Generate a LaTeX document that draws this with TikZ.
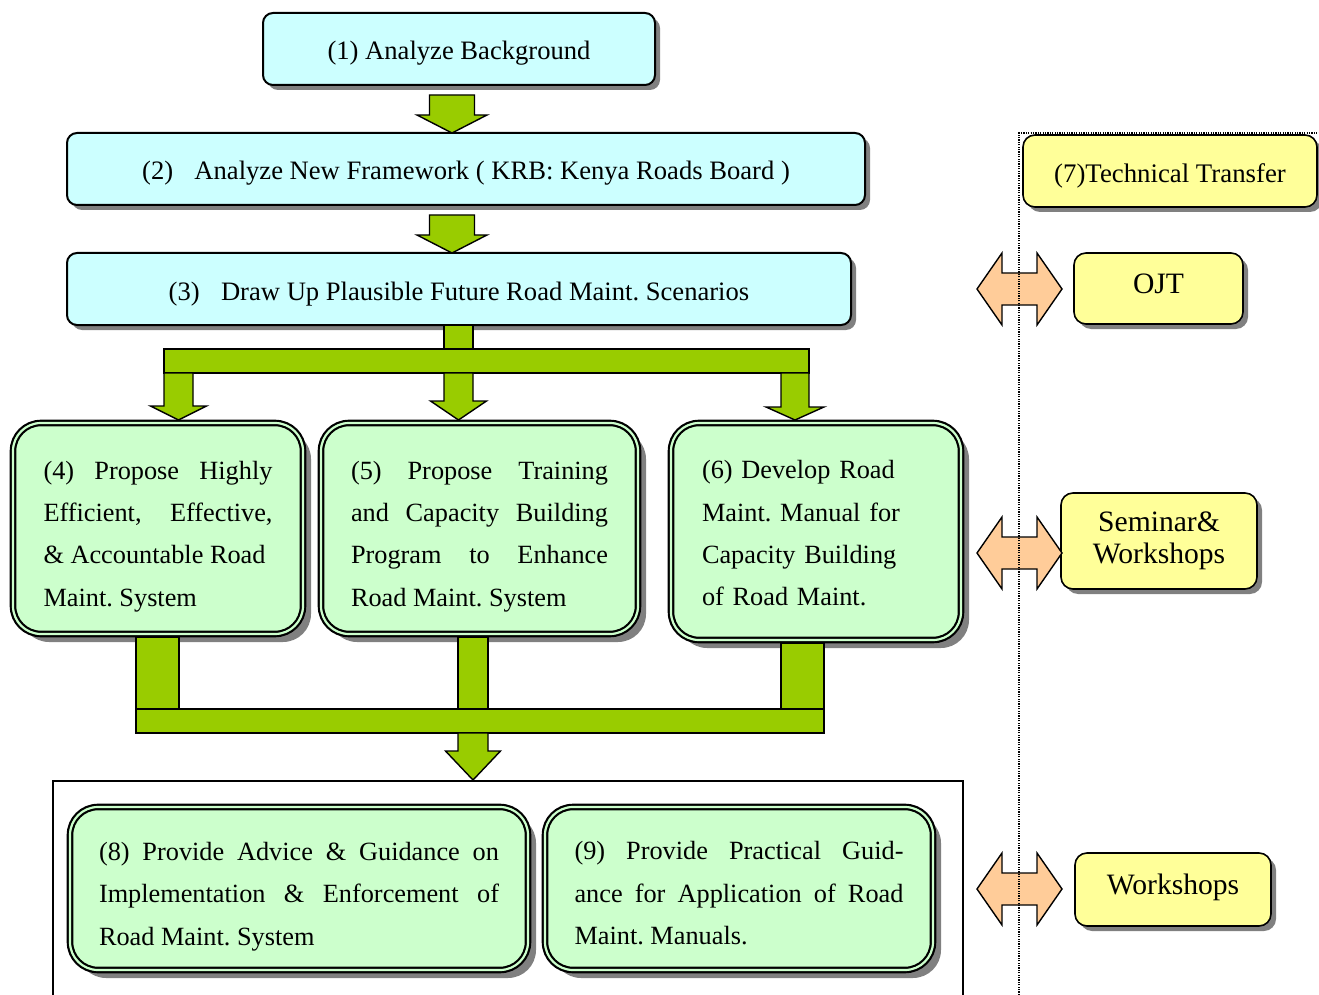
\documentclass[tikz,border=0pt]{standalone}
\usepackage{fontspec}
\setmainfont{Liberation Serif}
\usepackage{tikz}
\usetikzlibrary{calc}
\usetikzlibrary{shadows}
\frenchspacing

\definecolor{stepcyan}{HTML}{CCFFFF}
\definecolor{taskgreen}{HTML}{CCFFCC}
\definecolor{flowgreen}{HTML}{99CC00}
\definecolor{ttyellow}{HTML}{FFFF99}
\definecolor{ttpeach}{HTML}{FFCC99}

\newcommand{\taskfont}{\fontsize{13.15}{21.2}\selectfont\hyphenpenalty=10000 }
\newcommand{\gdown}[6]{%
  \draw[garrow] (#1-#5,#2) -- (#1+#5,#2) -- (#1+#5,#3) -- (#1+#6,#3) -- (#1,#4)
    -- (#1-#6,#3) -- (#1-#5,#3) -- cycle;}

\tikzset{
  stepbox/.style={draw, line width=1pt, rounded corners=5pt, fill=stepcyan,
    minimum height=36pt, inner sep=0pt, text height=14pt, text depth=3pt,
    drop shadow={shadow xshift=2.5pt, shadow yshift=-2.5pt, fill=black!50, opacity=1},
    font=\fontsize{13.3}{16}\selectfont},
  taskbox/.style={draw, line width=1.1pt, double=taskgreen, double distance=1.1pt,
    rounded corners=14pt, fill=taskgreen, inner sep=0pt, align=justify,
    drop shadow={shadow xshift=4pt, shadow yshift=-4pt, fill=black!50, opacity=1},
    font=\taskfont},
  ttbox/.style={draw, line width=0.8pt, rounded corners=6pt, fill=ttyellow,
    inner sep=0pt, align=center,
    drop shadow={shadow xshift=2.5pt, shadow yshift=-2.5pt, fill=black!50, opacity=1},
    font=\fontsize{14.8}{16}\selectfont},
  garrow/.style={draw, line width=0.7pt, fill=flowgreen},
  twoway/.style={draw, line width=0.7pt, fill=ttpeach}
}

\begin{document}
\begin{tikzpicture}[x=0.5pt, y=-0.5pt]
  \useasboundingbox (0,0) rectangle (1319,995);

  % analysis
  \node[stepbox, minimum width=196pt] (b1) at (459,49) {(1) Analyze Background};
  \node[stepbox, minimum width=399pt] (b2) at (466,169)
    {(2)\hspace{0.8em}Analyze New Framework ( KRB: Kenya Roads Board )};
  \node[stepbox, minimum width=392pt] (b3) at (459,289)
    {(3)\hspace{0.8em}Draw Up Plausible Future Road Maint. Scenarios};

  % proposals
  \node[taskbox, minimum width=145pt, minimum height=105.5pt, text width=114.5pt,
    text height=17pt] (b4) at (158,528.5)
    {(4) Propose Highly\linebreak Efficient, Effective,\linebreak
     \& Accountable Road\\ Maint. System};
  \node[taskbox, minimum width=158.5pt, minimum height=105.5pt, text width=128.5pt,
    text height=17pt] (b5) at (479.5,528.5)
    {(5) Propose Training\linebreak and Capacity Building\linebreak
     Program to Enhance\linebreak Road Maint. System};
  \node[taskbox, align=left, minimum width=145pt, minimum height=108.5pt, text width=114pt,
    text height=11pt] (b6) at (816,531.5)
    {(6) Develop Road\\ Maint. Manual for\\ Capacity Building\\ of Road Maint.};

  % guidance
  \node[taskbox, minimum width=229pt, minimum height=81.5pt, text width=200pt,
    text height=17pt] (b8) at (299,888.5)
    {(8) Provide Advice \& Guidance on\linebreak
     Implementation \& Enforcement of\linebreak Road Maint. System};
  \node[taskbox, minimum width=194pt, minimum height=81.5pt, text width=164.5pt,
    text height=14pt] (b9) at (739,888.5)
    {(9) Provide Practical Guid-\linebreak ance for Application of Road\linebreak
     Maint. Manuals.};
  \draw[line width=0.6pt] (53,995) -- (53,781) -- (963,781) -- (963,995);

  % technical transfer
  \node[ttbox, minimum width=147pt, minimum height=36pt, text height=15pt, text depth=3pt,
    font=\fontsize{13.4}{16}\selectfont] (tt) at (1170,171) {(7)Technical Transfer};
  \node[ttbox, minimum width=84.5pt, minimum height=35.5pt, text height=10pt,
    text depth=5pt] (ojt) at (1158.5,288.5) {OJT};
  \node[ttbox, minimum width=98pt, minimum height=48pt] (sem) at (1159,541)
    {Seminar\&\\Workshops};
  \node[ttbox, minimum width=98pt, minimum height=36.5pt, text height=10pt,
    text depth=5pt] (ws) at (1173,889.5) {Workshops};

  % flow
  \gdown{452}{95}{115}{133}{22.5}{35}
  \gdown{452}{215}{235}{253}{22.5}{35}
  \draw[garrow] (444,325) rectangle (473,349);
  \draw[garrow] (164,349) rectangle (809,373);
  \gdown{178.5}{373}{406}{420}{14.5}{28}
  \gdown{458.5}{373}{401}{420}{14.5}{28}
  \gdown{795}{373}{407}{420}{14}{29}
  \draw[garrow] (136,637) rectangle (179,709);
  \draw[garrow] (458,637) rectangle (488,709);
  \draw[garrow] (781,643) rectangle (824,709);
  \draw[garrow] (136,709) rectangle (824,733);
  \gdown{473}{733}{751}{780}{15}{27.5}

  \foreach \yc in {289,553,889}
    \draw[twoway] (977,\yc) -- (1002,\yc-36) -- (1002,\yc-16) -- (1037,\yc-16)
      -- (1037,\yc-36) -- (1062,\yc) -- (1037,\yc+36) -- (1037,\yc+16)
      -- (1002,\yc+16) -- (1002,\yc+36) -- cycle;
  \draw[line width=0.6pt, dash pattern=on 0.6pt off 0.6pt]
    (1019,995) -- (1019,133) -- (1319,133);
\end{tikzpicture}
\end{document}
